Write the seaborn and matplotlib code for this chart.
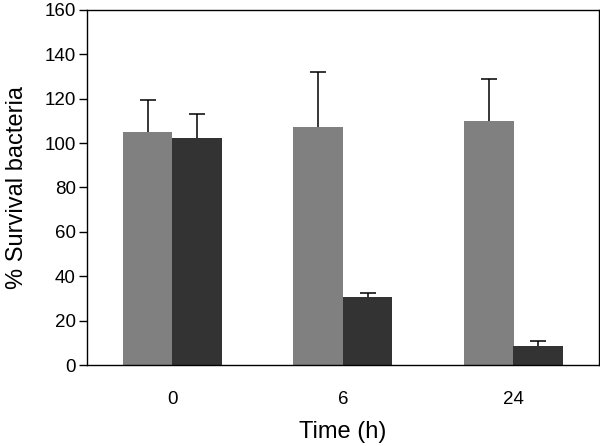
import pandas as pd
import matplotlib
matplotlib.use("Agg")
import matplotlib.pyplot as plt
import seaborn as sns

# Data
times = ["0", "6", "24"]
series = ["control", "treated"]
control_mean = [105.0, 107.1, 109.8]
control_err = [14.3, 25.1, 19.0]
treated_mean = [102.4, 30.5, 8.7]
treated_err = [10.8, 2.1, 2.1]

df = pd.DataFrame({
    "time": times * 2,
    "group": [series[0]] * 3 + [series[1]] * 3,
    "value": control_mean + treated_mean,
})
errors = [control_err, treated_err]

sns.set_style("white")
plt.rcParams["font.family"] = ["Liberation Sans", "DejaVu Sans"]
plt.rcParams["text.color"] = "black"
plt.rcParams["axes.labelcolor"] = "black"
plt.rcParams["xtick.color"] = "black"
plt.rcParams["ytick.color"] = "black"

fig = plt.figure(figsize=(6, 4.46), dpi=100)
ax = fig.add_axes([0.145, 0.1816, 0.853, 0.796])

sns.barplot(data=df, x="time", y="value", hue="group", order=times,
            hue_order=series, palette=["#808080", "#333333"],
            width=0.58, legend=False, errorbar=None, ax=ax,
            edgecolor="none", linewidth=0)

# upper-only error bars
for container, errs in zip(ax.containers, errors):
    for bar, e in zip(container, errs):
        xc = bar.get_x() + bar.get_width() / 2
        _, caps, _ = ax.errorbar(xc, bar.get_height(), yerr=[[0], [e]], fmt="none",
                                 ecolor="black", elinewidth=1.1, capsize=5.5,
                                 capthick=1.1)
        caps[0].set_visible(False)

ax.set_ylim(0, 160)
ax.set_xlim(-0.5, 2.5)
ax.set_yticks(range(0, 161, 20))
ax.set_xlabel("Time (h)", fontsize=17, labelpad=9)
ax.set_ylabel("% Survival bacteria", fontsize=17, labelpad=12)
ax.tick_params(axis="y", direction="out", length=6, width=1, labelsize=13.5,
               pad=2, left=True)
ax.tick_params(axis="x", length=0, labelsize=13.5, pad=19)
for sp in ax.spines.values():
    sp.set_visible(True)
    sp.set_color("black")
    sp.set_linewidth(1)

fig.savefig("out.png", dpi=100)
